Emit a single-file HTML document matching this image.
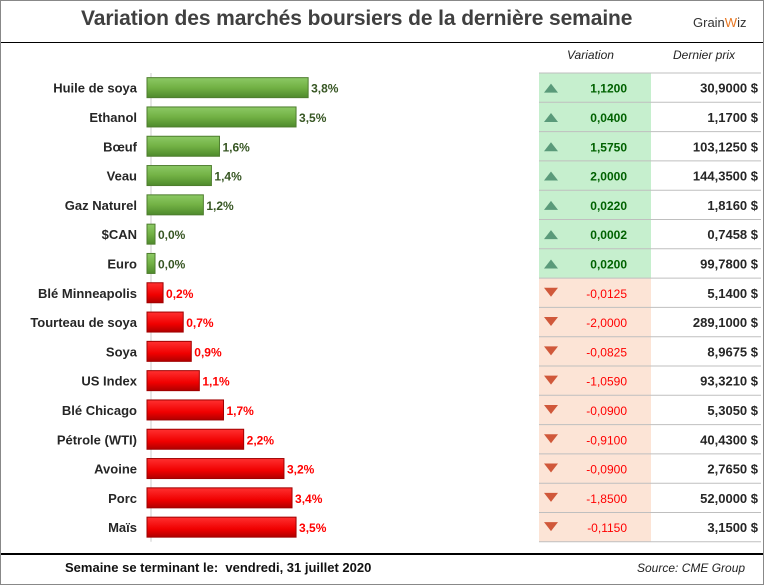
<!DOCTYPE html>
<html><head><meta charset="utf-8"><style>
body{margin:0;background:#fff;font-family:"Liberation Sans",sans-serif;}
#wrap{position:relative;width:762px;height:583px;border:1px solid #888;overflow:hidden;background:#fff;}
.t{position:absolute;white-space:nowrap;}
</style></head><body>
<div id="wrap">
<div class="t" style="left:80px;top:6px;font-size:21px;font-weight:bold;color:#404040;letter-spacing:-0.1px">Variation des marchés boursiers de la dernière semaine</div>
<div class="t" style="left:692px;top:14px;font-size:13px;color:#333;">Grain<span style="color:#e87722">W</span>iz</div>
<div style="position:absolute;left:0;top:41px;width:762px;height:1px;background:#000"></div>
<div class="t" style="left:566px;top:47px;font-size:12px;font-style:italic;color:#222">Variation</div>
<div class="t" style="left:672px;top:47px;font-size:12px;font-style:italic;color:#222">Dernier prix</div>
<svg id="svg" width="762" height="583" style="position:absolute;left:0;top:0"></svg>
<div style="position:absolute;left:0;top:552px;width:762px;height:2px;background:#000"></div>
<div class="t" style="left:64px;top:559px;font-size:13px;font-weight:bold;color:#111">Semaine se terminant le:&nbsp; vendredi, 31 juillet 2020</div>
<div class="t" style="left:636px;top:560px;font-size:12px;font-style:italic;color:#222">Source: CME Group</div>
</div>
<script>
const categories=["Huile de soya","Ethanol","Bœuf","Veau","Gaz Naturel","$CAN","Euro","Blé Minneapolis","Tourteau de soya","Soya","US Index","Blé Chicago","Pétrole (WTI)","Avoine","Porc","Maïs"];
const pctValues=[3.8,3.5,1.6,1.4,1.2,0.0,0.0,-0.2,-0.7,-0.9,-1.1,-1.7,-2.2,-3.2,-3.4,-3.5];
const changes=["1,1200","0,0400","1,5750","2,0000","0,0220","0,0002","0,0200","-0,0125","-2,0000","-0,0825","-1,0590","-0,0900","-0,9100","-0,0900","-1,8500","-0,1150"];
const prices=["30,9000 $","1,1700 $","103,1250 $","144,3500 $","1,8160 $","0,7458 $","99,7800 $","5,1400 $","289,1000 $","8,9675 $","93,3210 $","5,3050 $","40,4300 $","2,7650 $","52,0000 $","3,1500 $"];
const svg=document.getElementById('svg');const NS='http://www.w3.org/2000/svg';
function mk(t,a,p){const e=document.createElementNS(NS,t);for(const k in a)e.setAttribute(k,a[k]);(p||svg).appendChild(e);return e;}
const rowTop=72,rowH=29.3;
function yc(i){return rowTop+rowH*(i+0.5);}
function xw(v){return 8+Math.abs(v)*40.3;}
const x0=146;
const defs=mk('defs',{});
defs.innerHTML='<linearGradient id="gG" x1="0" y1="0" x2="0" y2="1"><stop offset="0" stop-color="#8cc965"/><stop offset="0.5" stop-color="#72b144"/><stop offset="1" stop-color="#4e8a2c"/></linearGradient><linearGradient id="gR" x1="0" y1="0" x2="0" y2="1"><stop offset="0" stop-color="#ff3030"/><stop offset="0.6" stop-color="#f00000"/><stop offset="1" stop-color="#b00000"/></linearGradient>';
let bgn=mk('rect',{x:538,y:rowTop,width:112,height:rowH*7,fill:'#c6efce'});

let bgr=mk('rect',{x:538,y:rowTop+rowH*7,width:112,height:rowH*9,fill:'#fce4d6'});

let ax=mk('line',{x1:150,y1:rowTop,x2:150,y2:rowTop+rowH*16,stroke:'#ccc'});

categories.forEach((c,i)=>{
 const v=pctValues[i],pos=v>=0&&i<7,y=yc(i),w=xw(v);
 let lb=mk('text',{x:136,y:y+5,'text-anchor':'end','font-size':13,'font-weight':'bold',fill:'#262626'});lb.textContent=c;
 
 let b=mk('rect',{x:x0,y:y-10,width:w,height:20,fill:pos?'url(#gG)':'url(#gR)',stroke:pos?'#4e7d2e':'#a00000','stroke-width':1});
 
 let vl=mk('text',{x:x0+w+3,y:y+5,'font-size':12,'font-weight':'bold',fill:pos?'#375623':'#ff0000'});vl.textContent=Math.abs(v).toFixed(1).replace('.',',')+'%';
 
 let ln=mk('line',{x1:538,y1:rowTop+rowH*(i+1),x2:760,y2:rowTop+rowH*(i+1),stroke:'#bfbfbf'});
 
 let ar=mk('polygon',{points:pos?`${543},${y+5} ${557},${y+5} ${550},${y-4}`:`${543},${y-5} ${557},${y-5} ${550},${y+4}`,fill:pos?'#5a9a7a':'#d0583a'});
 
 let ch=mk('text',{x:626,y:y+5,'text-anchor':'end','font-size':12,'font-weight':pos?'bold':'normal',fill:pos?'#006100':'#ff0000'});ch.textContent=changes[i];
 
 let pr=mk('text',{x:757,y:y+5,'text-anchor':'end','font-size':13,'font-weight':'bold',fill:'#262626'});pr.textContent=prices[i];
 
});
let tl=mk('line',{x1:538,y1:rowTop,x2:760,y2:rowTop,stroke:'#bfbfbf'});

</script>
</body></html>
